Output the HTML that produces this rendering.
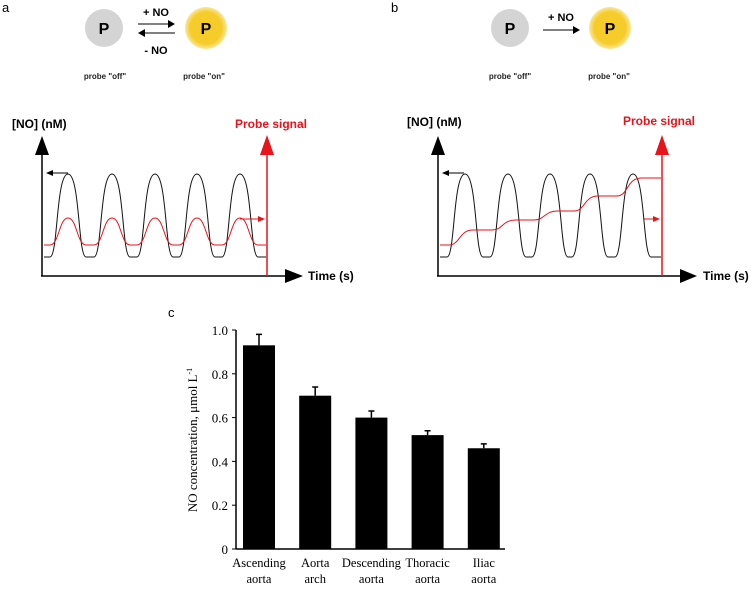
<!DOCTYPE html>
<html><head><meta charset="utf-8"><style>
html,body{margin:0;padding:0;background:#fff;}
svg{display:block;}
.sans{font-family:"Liberation Sans",sans-serif;}
.ser{font-family:"Liberation Serif",serif;}
</style></head><body>
<svg id="fig" width="751" height="590" viewBox="0 0 751 590" xmlns="http://www.w3.org/2000/svg">
<defs>
<radialGradient id="yel" cx="50%" cy="50%" r="50%">
<stop offset="0.75" stop-color="#f5cc2a"/><stop offset="1" stop-color="#fbe79a"/></radialGradient>
</defs>
<!-- Panel a -->
<g>
<text x="2" y="12" class="sans" font-size="13">a</text>
<circle cx="104" cy="28" r="19" fill="#d4d4d4"/>
<text x="104" y="34" text-anchor="middle" class="sans" font-weight="bold" font-size="16">P</text>
<circle cx="206" cy="28" r="21" fill="url(#yel)"/>
<text x="206" y="34" text-anchor="middle" class="sans" font-weight="bold" font-size="16">P</text>
<line x1="138" y1="24" x2="172" y2="24" stroke="#000"/>
<path d="M168,20 L175,24 L168,28Z" fill="#000"/>
<line x1="142" y1="33" x2="175" y2="33" stroke="#000"/>
<path d="M145,29 L138,33 L145,37Z" fill="#000"/>
<text x="156" y="16" text-anchor="middle" class="sans" font-weight="bold" font-size="11">+ NO</text>
<text x="156" y="54" text-anchor="middle" class="sans" font-weight="bold" font-size="11">- NO</text>
<text x="105" y="79" text-anchor="middle" class="sans" font-weight="bold" font-size="8" fill="#222">probe "off"</text>
<text x="204" y="79" text-anchor="middle" class="sans" font-weight="bold" font-size="8" fill="#222">probe "on"</text>
<text x="12" y="128" class="sans" font-weight="bold" font-size="12">[NO] (nM)</text>
<text x="235" y="128" class="sans" font-weight="bold" font-size="12" fill="#e8131b">Probe signal</text>
<line x1="42" y1="150" x2="42" y2="276" stroke="#000" stroke-width="1.5"/>
<path d="M35,155 L42,136 L49,155Z" fill="#000"/>
<line x1="41" y1="276" x2="290" y2="276" stroke="#000" stroke-width="1.5"/>
<path d="M285,269 L303,276 L285,283Z" fill="#000"/>
<text x="308" y="280" class="sans" font-weight="bold" font-size="12">Time (s)</text>
<line x1="267" y1="150" x2="267" y2="276" stroke="#e8131b" stroke-width="1.5"/>
<path d="M260,155 L267,135 L274,155Z" fill="#e8131b"/>
<path id="blackA" fill="none" stroke="#111" stroke-width="1"/>
<path id="redA" fill="none" stroke="#e8131b" stroke-width="1"/>
<line x1="68" y1="173" x2="50" y2="173" stroke="#000"/>
<path d="M53,170 L46,173 L53,176Z" fill="#000"/>
<line x1="240" y1="219" x2="260" y2="219" stroke="#e8131b"/>
<path d="M258,216 L265,219 L258,222Z" fill="#e8131b"/>
</g>
<!-- Panel b -->
<g>
<text x="391" y="12" class="sans" font-size="13">b</text>
<circle cx="510" cy="28" r="19" fill="#d4d4d4"/>
<text x="510" y="34" text-anchor="middle" class="sans" font-weight="bold" font-size="16">P</text>
<circle cx="610" cy="28" r="21" fill="url(#yel)"/>
<text x="610" y="34" text-anchor="middle" class="sans" font-weight="bold" font-size="16">P</text>
<line x1="543" y1="30" x2="577" y2="30" stroke="#000"/>
<path d="M573,26 L580,30 L573,34Z" fill="#000"/>
<text x="561" y="21" text-anchor="middle" class="sans" font-weight="bold" font-size="11">+ NO</text>
<text x="510" y="79" text-anchor="middle" class="sans" font-weight="bold" font-size="8" fill="#222">probe "off"</text>
<text x="609" y="79" text-anchor="middle" class="sans" font-weight="bold" font-size="8" fill="#222">probe "on"</text>
<text x="407" y="126" class="sans" font-weight="bold" font-size="12">[NO] (nM)</text>
<text x="623" y="125" class="sans" font-weight="bold" font-size="12" fill="#e8131b">Probe signal</text>
<line x1="438" y1="150" x2="438" y2="276" stroke="#000" stroke-width="1.5"/>
<path d="M431,155 L438,136 L445,155Z" fill="#000"/>
<line x1="437" y1="276" x2="682" y2="276" stroke="#000" stroke-width="1.5"/>
<path d="M680,269 L697,276 L680,283Z" fill="#000"/>
<text x="703" y="280" class="sans" font-weight="bold" font-size="12">Time (s)</text>
<line x1="662" y1="150" x2="662" y2="276" stroke="#e8131b" stroke-width="1.5"/>
<path d="M655,155 L662,135 L669,155Z" fill="#e8131b"/>
<path id="blackB" fill="none" stroke="#111" stroke-width="1"/>
<path id="redB" fill="none" stroke="#e8131b" stroke-width="1"/>
<line x1="464" y1="173" x2="446" y2="173" stroke="#000"/>
<path d="M449,170 L442,173 L449,176Z" fill="#000"/>
<line x1="643" y1="219" x2="655" y2="219" stroke="#e8131b"/>
<path d="M653,216 L660,219 L653,222Z" fill="#e8131b"/>
</g>
<!-- Panel c -->
<g id="chartC">
<text x="168" y="317" class="sans" font-size="13">c</text>
<text transform="translate(197,440) rotate(-90)" text-anchor="middle" class="ser" font-size="13">NO concentration, μmol L<tspan font-size="8" dy="-5">-1</tspan></text>
</g>
</svg>
<script>
// Schematic curve data (panels a & b)
const peaksA = [68, 112, 155, 197, 240];
const peaksB = [465, 508, 550, 590, 633];
const redLevelsB = [245, 230, 220, 211, 196, 178];
// Bar chart data (panel c)
const categories = [["Ascending","aorta"],["Aorta","arch"],["Descending","aorta"],["Thoracic","aorta"],["Iliac","aorta"]];
const values = [0.93, 0.70, 0.60, 0.52, 0.46];
const errors = [0.05, 0.04, 0.03, 0.02, 0.02];
const ticks = [0, 0.2, 0.4, 0.6, 0.8, 1.0];
const tickLabels = ["0","0.2","0.4","0.6","0.8","1.0"];

const NS = "http://www.w3.org/2000/svg";
function blackPath(peaks, x0, x1){
  let d = `M${x0},257`;
  peaks.forEach(p=>{ d += ` L${p-18},257 C${p-10},257 ${p-12},174 ${p},174 C${p+12},174 ${p+10},257 ${p+18},257`; });
  return d + ` L${x1},257`;
}
document.getElementById('blackA').setAttribute('d', blackPath(peaksA, 44, 266));
document.getElementById('blackB').setAttribute('d', blackPath(peaksB, 440, 661));
let dr = "M44,245";
peaksA.forEach(p=>{ dr += ` L${p-18},245 C${p-9},245 ${p-9},218 ${p},218 C${p+9},218 ${p+9},245 ${p+18},245`; });
dr += " L266,245";
document.getElementById('redA').setAttribute('d', dr);
let db = `M440,${redLevelsB[0]}`;
peaksB.forEach((p,i)=>{ const a=redLevelsB[i], b=redLevelsB[i+1]; db += ` L${p-16},${a} C${p-5},${a} ${p-6},${b} ${p+8},${b}`; });
db += ` L661,${redLevelsB[redLevelsB.length-1]}`;
document.getElementById('redB').setAttribute('d', db);

// Bar chart
const g = document.getElementById('chartC');
const X0 = 236, X1 = 505, Y0 = 549, Y1 = 330;
const yS = v => Y0 - v*(Y0-Y1);
const band = 56.2, bw = 32;
const xC = i => 259 + i*band;
function el(tag, attrs, parent){ const e=document.createElementNS(NS,tag); for(const k in attrs) e.setAttribute(k,attrs[k]); (parent||g).appendChild(e); return e; }
values.forEach((v,i)=>{
  const r = el('rect',{x:xC(i)-bw/2, y:yS(v), width:bw, height:Y0-yS(v), fill:'#000'});
  
  
  const e = el('path',{d:`M${xC(i)},${yS(v)} V${yS(v+errors[i])} M${xC(i)-3},${yS(v+errors[i])} H${xC(i)+3}`, stroke:'#000', 'stroke-width':1.5, fill:'none'});
  
  
  const t = el('text',{x:xC(i), y:567, 'text-anchor':'middle', class:'ser', 'font-size':12.5});
  
  
  categories[i].forEach((s,j)=>{ const ts=el('tspan',{x:xC(i), dy: j?16:0},t); ts.textContent=s; });
});
ticks.forEach((tv,i)=>{
  const l = el('line',{x1:X0-4, x2:X0, y1:yS(tv), y2:yS(tv), stroke:'#000', 'stroke-width':1});
  
  
  const t = el('text',{x:X0-8, y:yS(tv)+5, 'text-anchor':'end', class:'ser', 'font-size':13});
  t.textContent = tickLabels[i];
  
  
});
const ya = el('line',{x1:X0, x2:X0, y1:Y1, y2:Y0, stroke:'#000', 'stroke-width':1.5});


const xa = el('line',{x1:X0, x2:X1, y1:Y0, y2:Y0, stroke:'#000', 'stroke-width':1.5});


</script>
</body></html>
